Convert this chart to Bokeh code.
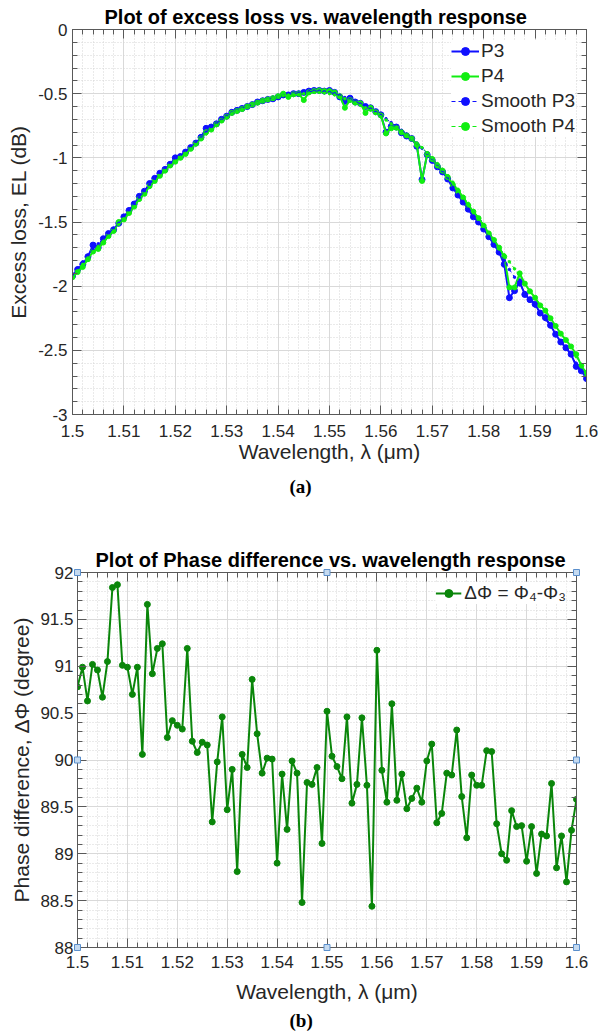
import numpy as np
from bokeh.plotting import figure
from bokeh.models import (LinearAxis, SingleIntervalTicker, CustomJSTickFormatter,
                          Legend, LegendItem, Range1d, ColumnDataSource, Title)
from bokeh.layouts import column
from bokeh.embed import file_html
from bokeh.resources import INLINE

# ---------------- data ----------------
wavelength_um = np.round(np.linspace(1.5, 1.6, 101), 3)

el_p3 = [-1.92, -1.87, -1.83, -1.77, -1.68, -1.70, -1.63, -1.59, -1.56, -1.51,
         -1.46, -1.41, -1.36, -1.30, -1.26, -1.20, -1.16, -1.12, -1.09, -1.05,
         -1.00, -0.99, -0.955, -0.92, -0.885, -0.84, -0.77, -0.76, -0.735, -0.70,
         -0.675, -0.645, -0.63, -0.615, -0.60, -0.585, -0.565, -0.555, -0.545, -0.54,
         -0.525, -0.51, -0.51, -0.50, -0.50, -0.49, -0.48, -0.475, -0.475, -0.48,
         -0.475, -0.49, -0.525, -0.56, -0.535, -0.565, -0.575, -0.60, -0.61, -0.64,
         -0.665, -0.80, -0.755, -0.76, -0.805, -0.83, -0.85, -0.91, -1.17, -0.975,
         -1.02, -1.07, -1.11, -1.165, -1.235, -1.29, -1.345, -1.40, -1.46, -1.50,
         -1.555, -1.615, -1.675, -1.735, -1.83, -2.09, -2.035, -1.965, -2.065, -2.105,
         -2.14, -2.21, -2.245, -2.305, -2.375, -2.435, -2.48, -2.53, -2.625, -2.66,
         -2.72]

el_p4 = [-1.93, -1.89, -1.85, -1.79, -1.73, -1.71, -1.66, -1.61, -1.57, -1.50,
         -1.48, -1.43, -1.38, -1.32, -1.28, -1.22, -1.18, -1.14, -1.10, -1.06,
         -1.03, -1.00, -0.97, -0.93, -0.89, -0.85, -0.80, -0.78, -0.74, -0.71,
         -0.68, -0.65, -0.635, -0.62, -0.60, -0.585, -0.57, -0.555, -0.545, -0.535,
         -0.52, -0.50, -0.525, -0.505, -0.50, -0.55, -0.49, -0.48, -0.475, -0.48,
         -0.48, -0.49, -0.52, -0.61, -0.55, -0.57, -0.575, -0.65, -0.61, -0.645,
         -0.67, -0.81, -0.77, -0.765, -0.80, -0.825, -0.85, -0.90, -1.18, -0.97,
         -1.01, -1.06, -1.10, -1.15, -1.21, -1.26, -1.31, -1.37, -1.42, -1.47,
         -1.53, -1.59, -1.64, -1.70, -1.77, -2.01, -2.01, -1.90, -1.98, -2.04,
         -2.09, -2.15, -2.19, -2.25, -2.31, -2.37, -2.42, -2.47, -2.53, -2.62,
         -2.68]

el_smooth_p3 = [-1.91, -1.86, -1.81, -1.76, -1.71, -1.67, -1.63, -1.59, -1.55, -1.51,
                -1.46, -1.41, -1.36, -1.31, -1.26, -1.21, -1.165, -1.12, -1.085, -1.045,
                -1.005, -0.98, -0.95, -0.915, -0.88, -0.845, -0.80, -0.765, -0.735, -0.705,
                -0.675, -0.65, -0.63, -0.615, -0.60, -0.585, -0.57, -0.555, -0.545, -0.535,
                -0.525, -0.515, -0.505, -0.50, -0.495, -0.49, -0.485, -0.48, -0.48, -0.485,
                -0.49, -0.50, -0.515, -0.53, -0.545, -0.56, -0.58, -0.60, -0.62, -0.645,
                -0.67, -0.695, -0.725, -0.755, -0.785, -0.815, -0.85, -0.885, -0.925, -0.965,
                -1.005, -1.05, -1.10, -1.15, -1.23, -1.285, -1.34, -1.40, -1.455, -1.505,
                -1.56, -1.615, -1.675, -1.74, -1.80, -1.87, -1.93, -1.99, -2.05, -2.105,
                -2.155, -2.21, -2.26, -2.315, -2.375, -2.43, -2.485, -2.54, -2.60, -2.66,
                -2.715]

el_smooth_p4 = [-1.93, -1.88, -1.83, -1.78, -1.73, -1.69, -1.65, -1.61, -1.57, -1.52,
                -1.475, -1.43, -1.38, -1.33, -1.28, -1.23, -1.185, -1.14, -1.10, -1.06,
                -1.025, -0.995, -0.965, -0.93, -0.895, -0.855, -0.815, -0.78, -0.745, -0.715,
                -0.685, -0.655, -0.635, -0.62, -0.60, -0.585, -0.57, -0.555, -0.545, -0.535,
                -0.525, -0.515, -0.51, -0.505, -0.505, -0.50, -0.495, -0.49, -0.49, -0.495,
                -0.50, -0.51, -0.525, -0.54, -0.555, -0.57, -0.59, -0.61, -0.63, -0.655,
                -0.68, -0.705, -0.735, -0.76, -0.79, -0.82, -0.85, -0.885, -0.92, -0.96,
                -1.00, -1.045, -1.09, -1.14, -1.19, -1.245, -1.30, -1.355, -1.41, -1.465,
                -1.52, -1.58, -1.64, -1.695, -1.755, -1.81, -1.865, -1.92, -1.98, -2.035,
                -2.09, -2.145, -2.20, -2.255, -2.31, -2.365, -2.42, -2.475, -2.55, -2.61,
                -2.67]

phase_diff_deg = [90.78, 90.99, 90.63, 91.02, 90.96, 90.67, 91.05, 91.84, 91.87, 91.01,
                  90.99, 90.70, 90.99, 90.06, 91.66, 90.92, 91.19, 91.24, 90.24, 90.42,
                  90.37, 90.33, 91.19, 90.20, 90.08, 90.19, 90.16, 89.34, 89.98, 90.46,
                  89.47, 89.90, 88.81, 90.06, 89.92, 90.86, 90.28, 89.86, 90.02, 90.01,
                  88.90, 89.85, 89.26, 89.99, 89.86, 88.48, 89.76, 89.74, 89.92, 89.11,
                  90.52, 90.04, 89.93, 89.80, 90.46, 89.54, 89.74, 90.45, 89.73, 88.44,
                  91.17, 89.89, 89.55, 90.60, 89.57, 89.85, 89.48, 89.59, 89.70, 89.55,
                  89.99, 90.17, 89.33, 89.43, 89.86, 89.84, 90.32, 89.61, 89.17, 89.84,
                  89.73, 89.73, 90.10, 90.09, 89.32, 89.00, 88.93, 89.46, 89.29, 89.30,
                  88.92, 89.29, 88.79, 89.21, 89.19, 89.75, 88.85, 89.19, 88.70, 89.25,
                  89.58]

# ---------------- style ----------------
FONT = "Liberation Sans"
AX = "#595959"
TXT = "#262626"
BLUE = "#1010ff"
LIME = "#11ee11"
DKGREEN = "#0a860a"

fmt_code = "return String(parseFloat(tick.toFixed(4)));"


def style_axis(ax, labels=True, lab_standoff=6, axlab_standoff=4):
    ax.axis_line_color = AX
    ax.axis_line_width = 1
    ax.major_tick_line_color = AX
    ax.minor_tick_line_color = AX
    ax.major_tick_in = 9
    ax.major_tick_out = 0
    ax.minor_tick_in = 5
    ax.minor_tick_out = 0
    ax.major_label_text_font = FONT
    ax.axis_label_text_font = FONT
    ax.axis_label_text_font_style = "normal"
    ax.axis_label_text_color = TXT
    ax.axis_label_text_font_size = "21px"
    if labels:
        ax.major_label_text_color = TXT
        ax.major_label_text_font_size = "17px"
        ax.major_label_standoff = lab_standoff
        ax.axis_label_standoff = axlab_standoff
    else:
        ax.major_label_text_color = None
        ax.major_label_text_font_size = "1px"
        ax.major_label_standoff = 0


def make_fig(height, xr, yr, yint, borders, title, title_offset, xstand, ystand):
    p = figure(width=600, height=height, x_range=Range1d(*xr), y_range=Range1d(*yr),
               output_backend="svg", toolbar_location=None, frame_align=False,
               min_border_left=borders[0], min_border_right=borders[1],
               min_border_top=borders[2], min_border_bottom=borders[3],
               background_fill_color="white", border_fill_color="white")
    p.outline_line_color = None
    xt = SingleIntervalTicker(interval=0.01, num_minor_ticks=5)
    yt = SingleIntervalTicker(interval=yint, num_minor_ticks=5)
    xb = p.below[0]
    yl = p.left[0]
    xb.ticker = xt
    yl.ticker = yt
    xb.formatter = CustomJSTickFormatter(code=fmt_code)
    yl.formatter = CustomJSTickFormatter(code=fmt_code)
    style_axis(xb, True, *xstand)
    style_axis(yl, True, *ystand)
    top = LinearAxis(ticker=xt)
    right = LinearAxis(ticker=yt)
    style_axis(top, False)
    style_axis(right, False)
    p.add_layout(top, "above")
    p.add_layout(right, "right")
    for g in (p.xgrid[0], p.ygrid[0]):
        g.grid_line_color = "#d9d9d9"
        g.grid_line_width = 1
        g.minor_grid_line_color = "#d4d4d4"
        g.minor_grid_line_dash = "1 2"
        g.minor_grid_line_width = 1
    p.title.text = title
    p.title.align = "left"
    p.title.offset = title_offset
    p.title.text_font = FONT
    p.title.text_font_size = "20px"
    p.title.text_font_style = "bold"
    p.title.text_color = "black"
    p.title.standoff = 4
    return p, xb, yl


def panel_tag(p, text, offset, standoff):
    t = Title(text=text, align="left", offset=offset, standoff=standoff,
              text_font="Liberation Serif", text_font_style="bold",
              text_font_size="19px", text_color="black")
    p.add_layout(t, "below")


# ---------------- plot (a) ----------------
p1, x1, y1 = make_fig(505, (1.5, 1.6), (-3, 0), 0.5, (72, 14, 29, 91),
                      "Plot of excess loss vs. wavelength response", 32, (10, 0), (5, 5))
x1.axis_label = "Wavelength, λ (μm)"
y1.axis_label = "Excess loss, EL (dB)"

src1 = ColumnDataSource(dict(wl=wavelength_um, p3=el_p3, p4=el_p4,
                             s3=el_smooth_p3, s4=el_smooth_p4))
l3 = p1.line("wl", "p3", source=src1, line_color=BLUE, line_width=2)
m3 = p1.scatter("wl", "p3", source=src1, size=6, fill_color=BLUE, line_color=BLUE)
l4 = p1.line("wl", "p4", source=src1, line_color=LIME, line_width=2)
m4 = p1.scatter("wl", "p4", source=src1, size=5, fill_color=LIME, line_color=LIME)
ls3 = p1.line("wl", "s3", source=src1, line_color=BLUE, line_width=1, line_dash="4 3")
ms3 = p1.scatter("wl", "s3", source=src1, size=2.5, fill_color=BLUE, line_color=BLUE)
ls4 = p1.line("wl", "s4", source=src1, line_color=LIME, line_width=1, line_dash="4 3")
ms4 = p1.scatter("wl", "s4", source=src1, size=2.5, fill_color=LIME, line_color=LIME)

leg1 = Legend(items=[LegendItem(label="P3", renderers=[l3, m3]),
                     LegendItem(label="P4", renderers=[l4, m4]),
                     LegendItem(label="Smooth P3", renderers=[ls3, ms3]),
                     LegendItem(label="Smooth P4", renderers=[ls4, ms4])],
              location="top_right", background_fill_color="white",
              background_fill_alpha=1.0, border_line_color=None,
              label_text_font=FONT, label_text_font_size="19px", label_text_color=TXT,
              glyph_width=28, glyph_height=20, label_standoff=2, spacing=3,
              padding=3, margin=11, label_height=20)
p1.add_layout(leg1)
panel_tag(p1, "(a)", 217, 16)

# ---------------- plot (b) ----------------
p2, x2, y2 = make_fig(531, (1.5, 1.6), (88, 92), 0.5, (77, 24, 67, 89),
                      "Plot of Phase difference vs. wavelength response", 18, (8, 9), (4, 4))
x2.axis_label = "Wavelength, λ (μm)"
y2.axis_label = "Phase difference, ΔΦ (degree)"

src2 = ColumnDataSource(dict(wl=wavelength_um, dphi=phase_diff_deg))
lp = p2.line("wl", "dphi", source=src2, line_color=DKGREEN, line_width=2)
mp = p2.scatter("wl", "dphi", source=src2, size=6, fill_color=DKGREEN, line_color=DKGREEN)

leg2 = Legend(items=[LegendItem(label="ΔΦ = Φ₄-Φ₃", renderers=[lp, mp])],
              location="top_right", background_fill_color="white",
              background_fill_alpha=1.0, border_line_color=None,
              label_text_font=FONT, label_text_font_size="19px", label_text_color=TXT,
              glyph_width=26, glyph_height=20, label_standoff=3, spacing=1,
              padding=3, margin=10, label_height=20)
p2.add_layout(leg2)

# editing handles (corners and edge midpoints of the axes box)
x_lo, x_hi = p2.x_range.start, p2.x_range.end
y_lo, y_hi = p2.y_range.start, p2.y_range.end
x_mid, y_mid = (x_lo + x_hi) / 2, (y_lo + y_hi) / 2
hx = [x_lo, x_mid, x_hi, x_lo, x_hi, x_lo, x_mid, x_hi]
hy = [y_hi, y_hi, y_hi, y_mid, y_mid, y_lo, y_lo, y_lo]
p2.scatter(hx, hy, marker="square", size=6, fill_color="#c5daf0", line_color="#5a8fcc",
           line_width=1, level="overlay")

panel_tag(p2, "(b)", 212, 5)

layout = column(p1, p2, spacing=0)
open("out.html", "w").write(file_html(layout, INLINE))
